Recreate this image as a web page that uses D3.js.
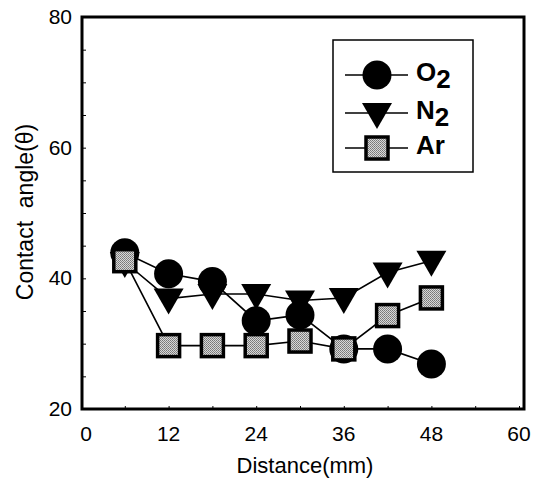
<!DOCTYPE html>
<html>
<head>
<meta charset="utf-8">
<script src="https://cdn.jsdelivr.net/npm/d3@7"></script>
<style>
  body { margin: 0; background: #fff; }
  text { font-family: "Liberation Sans", Arial, sans-serif; }
</style>
</head>
<body>
<div id="chart"></div>
<script>
// Contact angle vs distance for three gases
var distance = [6, 12, 18, 24, 30, 36, 42, 48];
var o2 = [43.9, 40.7, 39.5, 33.5, 34.4, 29.2, 29.2, 26.9];
var n2 = [42.5, 36.9, 37.6, 37.6, 36.6, 37.0, 40.9, 42.7];
var ar = [42.7, 29.7, 29.7, 29.7, 30.4, 29.2, 34.3, 37.0];
var xTicks = [0, 12, 24, 36, 48, 60];
var yTicks = [20, 40, 60, 80];

var width = 543, height = 481;

var svg = d3.select("#chart")
    .append("svg")
    .attr("width", width)
    .attr("height", height);

// halftone fill for the Ar squares
var pat = svg.append("defs").append("pattern")
    .attr("id", "dots")
    .attr("width", 2).attr("height", 2)
    .attr("patternUnits", "userSpaceOnUse");
pat.append("rect").attr("width", 2).attr("height", 2).attr("fill", "#d8d8d8");
pat.append("rect").attr("width", 1).attr("height", 1).attr("fill", "#777");
pat.append("rect").attr("x", 1).attr("y", 1).attr("width", 1).attr("height", 1).attr("fill", "#888");

var xScale = d3.scaleLinear().domain([0, 60]).range([81, 519]);
var yScale = d3.scaleLinear().domain([20, 80]).range([409, 17]);

// inner minor ticks
svg.append("g")
  .attr("transform", "translate(" + 82 + ",0)")
  .call(d3.axisRight(yScale).tickValues(d3.range(20, 81, 5)).tickSize(4).tickFormat(""))
  .call(g => g.select(".domain").remove());
svg.append("g")
  .attr("transform", "translate(0," + 409 + ")")
  .call(d3.axisTop(xScale).tickValues(d3.range(0, 61, 6)).tickSize(3).tickFormat(""))
  .call(g => g.select(".domain").remove());

// frame
svg.append("rect")
  .attr("x", 82).attr("y", 17)
  .attr("width", 442).attr("height", 392)
  .attr("fill", "none")
  .attr("stroke", "#000")
  .attr("stroke-width", 3);

// tick labels
svg.selectAll(".xlab")
  .data(xTicks)
  .enter().append("text")
  .attr("x", d => xScale(d) + (d === 0 ? 5 : 0))
  .attr("y", 441)
  .attr("text-anchor", "middle")
  .attr("font-size", 21)
  .text(d => d);

svg.selectAll(".ylab")
  .data(yTicks)
  .enter().append("text")
  .attr("x", 72)
  .attr("y", d => yScale(d) + 7)
  .attr("text-anchor", "end")
  .attr("font-size", 21)
  .text(d => d);

// axis titles
svg.append("text")
  .attr("x", 305).attr("y", 473)
  .attr("text-anchor", "middle")
  .attr("font-size", 22)
  .text("Distance(mm)");

svg.append("text")
  .attr("transform", "translate(33,212) rotate(-90)")
  .attr("text-anchor", "middle")
  .attr("font-size", 23)
  .style("white-space", "pre")
  .text("Contact  angle(\u03b8)");

var line = d3.line()
  .x((d, i) => xScale(distance[i]))
  .y(d => yScale(d));

var series = [
  {name: "O2", values: o2, shape: "circle"},
  {name: "N2", values: n2, shape: "triangle"},
  {name: "Ar", values: ar, shape: "square"}
];

function drawMarker(g, shape, x, y) {
  if (shape === "circle") {
    g.append("circle").attr("cx", x).attr("cy", y).attr("r", 14.5).attr("fill", "#000");
  } else if (shape === "triangle") {
    g.append("path")
      .attr("d", "M" + (x - 15) + "," + (y - 10) + "L" + (x + 15) + "," + (y - 10) + "L" + x + "," + (y + 16) + "Z")
      .attr("fill", "#000");
  } else {
    g.append("rect")
      .attr("x", x - 11).attr("y", y - 11)
      .attr("width", 22).attr("height", 22)
      .attr("fill", "url(#dots)")
      .attr("stroke", "#000")
      .attr("stroke-width", 3.5);
  }
}

series.forEach(function(s) {
  svg.append("path")
    .datum(s.values)
    .attr("d", line)
    .attr("fill", "none")
    .attr("stroke", "#000")
    .attr("stroke-width", 1.6);
});

series.forEach(function(s) {
  var g = svg.append("g");
  s.values.forEach(function(v, i) {
    drawMarker(g, s.shape, xScale(distance[i]), yScale(v));
  });
});

// legend
var legend = svg.append("g");
legend.append("rect")
  .attr("x", 333).attr("y", 40)
  .attr("width", 140).attr("height", 132)
  .attr("fill", "#fff")
  .attr("stroke", "#000")
  .attr("stroke-width", 1.5);

var rowY = [75, 113, 148];
var labels = [["O", "2"], ["N", "2"], ["Ar", ""]];
series.forEach(function(s, i) {
  legend.append("line")
    .attr("x1", 345).attr("x2", 408)
    .attr("y1", rowY[i]).attr("y2", rowY[i])
    .attr("stroke", "#000").attr("stroke-width", 1.6);
  drawMarker(legend, s.shape, 377, rowY[i]);
  var t = legend.append("text")
    .attr("x", 416).attr("y", rowY[i] + 6)
    .attr("font-size", 26)
    .attr("font-weight", "bold");
  t.append("tspan").text(labels[i][0]);
  if (labels[i][1]) t.append("tspan").attr("dy", 7).text(labels[i][1]);
});
</script>
</body>
</html>
